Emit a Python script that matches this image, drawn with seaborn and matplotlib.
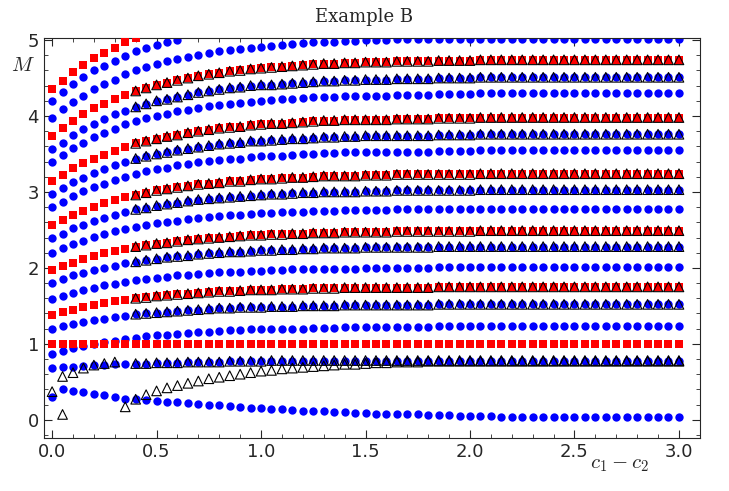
import numpy as np
import pandas as pd
import matplotlib
matplotlib.use("Agg")
import matplotlib.pyplot as plt
import seaborn as sns
from matplotlib.ticker import MultipleLocator

x = [round(0.05 * i, 2) for i in range(61)]

red_branches = {
    "r1": [1.0] * 61,
    "r2": [1.38,1.42,1.45,1.48,1.51,1.54,1.56,1.58,1.60,1.61,1.63,1.64,1.65,1.66,1.67,1.68,1.69,1.69,1.70,1.71,1.71,1.71,1.72,1.72,1.72,1.73,1.73,1.73,1.74,1.74,1.74,1.74,1.74,1.74,1.74,1.74,1.74,1.75,1.75,1.75,1.75] + [1.75] * 20,
    "r3": [1.97,2.02,2.07,2.12,2.16,2.19,2.22,2.25,2.28,2.30,2.32,2.33,2.35,2.37,2.38,2.39,2.40,2.41,2.42,2.43,2.43,2.44,2.44,2.45,2.45,2.46,2.46,2.46,2.47,2.47,2.47,2.47,2.47,2.48,2.48,2.48,2.48,2.48,2.48,2.48,2.48] + [2.49] * 20,
    "r4": [2.56,2.63,2.70,2.75,2.80,2.85,2.89,2.93,2.96,2.99,3.02,3.04,3.06,3.08,3.10,3.11,3.12,3.14,3.14,3.16,3.17,3.17,3.18,3.19,3.19,3.20,3.21,3.21,3.21,3.21,3.22,3.22,3.22,3.23,3.23,3.23,3.23,3.23,3.23,3.23,3.23] + [3.24] * 20,
    "r5": [3.14,3.22,3.31,3.38,3.44,3.49,3.54,3.59,3.64,3.67,3.70,3.73,3.75,3.78,3.80,3.82,3.84,3.85,3.86,3.88,3.89,3.90,3.90,3.91,3.92,3.93,3.94,3.94,3.95,3.95,3.95,3.95,3.95,3.96,3.96,3.96,3.96,3.97,3.97,3.97,3.97] + [3.98] * 20,
    "r6": [3.74,3.84,3.94,4.02,4.10,4.16,4.22,4.28,4.33,4.37,4.41,4.44,4.47,4.50,4.53,4.55,4.57,4.59,4.60,4.62,4.63,4.64,4.65,4.66,4.67,4.68,4.69,4.69,4.70,4.70,4.71,4.71,4.71,4.72,4.72,4.72,4.72,4.73,4.73,4.73,4.73] + [4.74] * 20,
    "r7": [4.35,4.46,4.58,4.67,4.76,4.83,4.90,4.97,5.03],
}

blue_branches = {
    "b0": [0.30,0.40,0.38,0.36,0.34,0.32,0.30,0.27,0.27,0.26,0.25,0.24,0.23,0.22,0.21,0.20,0.19,0.18,0.17,0.16,0.15,0.14,0.14,0.13,0.12,0.12,0.11,0.10,0.10,0.09,0.09,0.08,0.08,0.07,0.07,0.07,0.06,0.06,0.06,0.05,0.05,0.05,0.05,0.04,0.04,0.04,0.04,0.04,0.04] + [0.03] * 12,
    "b1": [0.68,0.69,0.70,0.71,0.72,0.72,0.73,0.73,0.74,0.74,0.75,0.75,0.75,0.76,0.76,0.76,0.76,0.77,0.77,0.77,0.77] + [0.78] * 40,
    "b2": [0.87,0.91,0.94,0.97,1.00,1.02,1.04,1.06,1.08,1.10,1.11,1.12,1.13,1.14,1.15,1.16,1.17,1.18,1.18,1.19,1.19,1.19,1.20,1.20,1.20,1.21,1.21,1.21,1.22,1.22,1.22,1.22,1.22,1.22,1.22,1.22,1.22] + [1.23] * 24,
    "b3": [1.20,1.23,1.26,1.29,1.32,1.33,1.35,1.37,1.39,1.40,1.41,1.42,1.43,1.44,1.45,1.46,1.47,1.47,1.48,1.48,1.48,1.49,1.49,1.49,1.50,1.50,1.50,1.50,1.51,1.51,1.51,1.51,1.51,1.51,1.51,1.51,1.51] + [1.52] * 24,
    "b4": [1.59,1.63,1.67,1.71,1.74,1.77,1.79,1.82,1.84,1.85,1.87,1.88,1.90,1.91,1.92,1.93,1.94,1.95,1.95,1.96,1.96,1.97,1.97,1.98,1.98,1.98,1.99,1.99,1.99,1.99,2.00,2.00,2.00,2.00,2.00,2.00,2.00] + [2.01] * 24,
    "b5": [1.80,1.85,1.90,1.93,1.97,2.00,2.03,2.06,2.08,2.10,2.12,2.14,2.15,2.16,2.18,2.19,2.20,2.21,2.21,2.22,2.23,2.23,2.24,2.24,2.25,2.25,2.26,2.26,2.26,2.26,2.27,2.27,2.27,2.27,2.27,2.27,2.27] + [2.28] * 24,
    "b6": [2.20,2.26,2.32,2.36,2.41,2.44,2.48,2.51,2.54,2.57,2.59,2.61,2.62,2.64,2.66,2.67,2.68,2.69,2.70,2.71,2.72,2.72,2.73,2.73,2.74,2.75,2.75,2.75,2.76,2.76,2.76,2.76,2.76,2.77,2.77,2.77,2.77,2.77,2.77,2.77,2.77] + [2.78] * 20,
    "b7": [2.39,2.45,2.52,2.57,2.62,2.66,2.70,2.74,2.77,2.79,2.82,2.84,2.86,2.88,2.90,2.91,2.92,2.93,2.94,2.95,2.96,2.97,2.97,2.98,2.99,2.99,3.00,3.00,3.00,3.00,3.01,3.01,3.01,3.02,3.02,3.02,3.02,3.02,3.02,3.02,3.02] + [3.03] * 20,
    "b8": [2.80,2.87,2.95,3.01,3.07,3.11,3.16,3.20,3.24,3.27,3.30,3.32,3.35,3.37,3.39,3.41,3.42,3.44,3.44,3.46,3.47,3.47,3.48,3.49,3.50,3.50,3.51,3.51,3.52,3.52,3.53,3.53,3.53,3.53,3.53,3.53,3.53,3.54,3.54,3.54,3.54] + [3.55] * 20,
    "b9": [2.97,3.05,3.13,3.19,3.25,3.30,3.35,3.40,3.44,3.47,3.50,3.52,3.55,3.57,3.59,3.61,3.63,3.64,3.65,3.67,3.67,3.68,3.69,3.70,3.70,3.71,3.72,3.72,3.73,3.73,3.74,3.74,3.74,3.74,3.74,3.74,3.74,3.75,3.75,3.75,3.75] + [3.76] * 20,
    "b10": [3.40,3.49,3.58,3.65,3.72,3.78,3.83,3.89,3.93,3.97,4.00,4.03,4.06,4.08,4.11,4.13,4.15,4.16,4.17,4.19,4.20,4.21,4.22,4.23,4.24,4.25,4.25,4.25,4.26,4.26,4.27,4.27,4.27,4.28,4.28,4.28,4.28,4.29,4.29,4.29,4.29] + [4.30] * 20,
    "b11": [3.56,3.65,3.75,3.83,3.90,3.96,4.02,4.07,4.12,4.16,4.20,4.22,4.25,4.28,4.31,4.33,4.35,4.37,4.38,4.40,4.41,4.41,4.42,4.43,4.44,4.45,4.46,4.46,4.47,4.47,4.48,4.48,4.48,4.49,4.49,4.49,4.49,4.50,4.50,4.50,4.50] + [4.51] * 20,
    "b12": [3.98,4.09,4.19,4.27,4.36,4.42,4.48,4.55,4.60,4.64,4.68,4.72,4.75,4.78,4.81,4.83,4.85,4.87,4.88,4.90,4.91,4.92,4.93,4.95,4.96,4.97,4.98,4.98,4.99,4.99,5.00,5.00,5.00] + [5.01] * 28,
    "b13": [4.20,4.31,4.42,4.51,4.60,4.66,4.73,4.79,4.85,4.89,4.94,4.97,5.00],
}

# triangles sitting on these branches (from x = 0.4 on)
tri_on = ["b1", "b3", "b5", "b7", "b9", "b11", "r2", "r3", "r4", "r5", "r6"]
tri_start = 8
tri_low_x = [0.0, 0.05] + [round(0.35 + 0.05 * i, 2) for i in range(54)]
tri_low_y = [0.37, 0.07] + [0.17,0.27,0.33,0.38,0.42,0.45,0.48,0.51,0.54,0.56,0.58,0.60,0.62,0.64,0.65,0.67,0.68,0.69,0.70,0.71,0.72,0.73,0.73,0.74,0.75,0.75,0.76,0.76,0.76,0.77,0.77,0.77] + [0.77] * 22
tri_left_x = [0.05, 0.10, 0.15, 0.20, 0.25, 0.30]
tri_left_y = [0.57, 0.62, 0.68, 0.72, 0.74, 0.76]

rows = []
for name, ys in blue_branches.items():
    rows += [dict(x=x[i], M=v, kind="blue") for i, v in enumerate(ys)]
for name, ys in red_branches.items():
    rows += [dict(x=x[i], M=v, kind="red") for i, v in enumerate(ys)]
allb = {**blue_branches, **red_branches}
for name in tri_on:
    rows += [dict(x=x[i], M=v, kind="tri") for i, v in enumerate(allb[name]) if i >= tri_start]
rows += [dict(x=a, M=b, kind="tri") for a, b in zip(tri_low_x, tri_low_y)]
rows += [dict(x=a, M=b, kind="tri") for a, b in zip(tri_left_x, tri_left_y)]
df = pd.DataFrame(rows)

sns.set_style("ticks")
plt.rcParams["mathtext.fontset"] = "cm"
fig = plt.figure(figsize=(7.29, 4.91), dpi=100)
ax = fig.add_axes([0.060, 0.108, 0.90, 0.815])

sns.scatterplot(data=df[df.kind == "blue"], x="x", y="M", ax=ax, color="#0000ff",
                marker="o", s=36, linewidth=0, legend=False, zorder=2)
sns.scatterplot(data=df[df.kind == "red"], x="x", y="M", ax=ax, color="#ff0000",
                marker="s", s=36, linewidth=0, legend=False, zorder=3)
sns.scatterplot(data=df[df.kind == "tri"], x="x", y="M", ax=ax, marker="^", s=48,
                facecolors="none", edgecolor="black", linewidth=0.8, legend=False, zorder=4)

ax.set_xlim(-0.04, 3.1)
ax.set_ylim(-0.24, 5.03)
ax.xaxis.set_major_locator(MultipleLocator(0.5))
ax.xaxis.set_minor_locator(MultipleLocator(0.1))
ax.yaxis.set_major_locator(MultipleLocator(1))
ax.yaxis.set_minor_locator(MultipleLocator(0.2))
ax.tick_params(which="both", direction="in", top=True, right=True, labelsize=13)
ax.tick_params(which="major", length=6)
ax.tick_params(which="minor", length=3)
ax.set_xlabel("")
ax.set_ylabel("")
fig.text(0.015, 0.855, r"$M$", fontsize=15)
fig.text(0.81, 0.045, r"$c_1 - c_2$", fontsize=15)
fig.text(0.5, 0.955, "Example B", ha="center", fontsize=13, family="DejaVu Serif")
fig.savefig("out.png", dpi=100)
